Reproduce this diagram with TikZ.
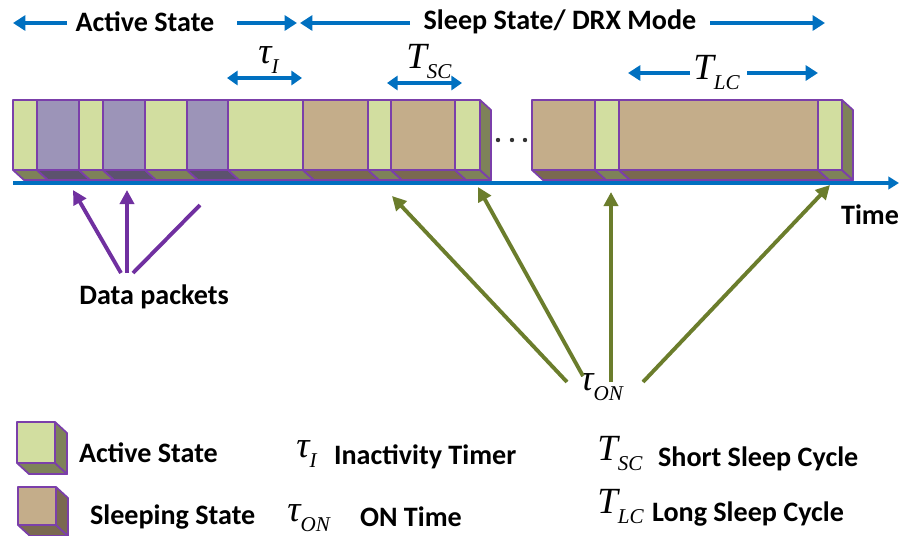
\documentclass[tikz,border=0pt]{standalone}
\usepackage{fontspec}
\setmainfont{Carlito}
\newfontfamily\symfont{Liberation Serif}
\usetikzlibrary{arrows.meta}

\definecolor{act}{HTML}{D2DEA0}
\definecolor{actbot}{HTML}{7E8259}
\definecolor{pkt}{HTML}{9C94B8}
\definecolor{pktbot}{HTML}{5C526E}
\definecolor{slp}{HTML}{C4AD8A}
\definecolor{slpbot}{HTML}{7A6950}
\definecolor{edge}{HTML}{7B3FAA}
\definecolor{dblue}{HTML}{0070C0}
\definecolor{pktline}{HTML}{7030A0}
\definecolor{online}{HTML}{6B7D2C}

% timer symbol with its subscript
\newcommand{\tsym}[2]{{\symfont\mdseries\itshape\fontsize{21}{24}\selectfont #1\raisebox{-6pt}{\fontsize{12}{14}\selectfont #2}}}

\begin{document}
\begin{tikzpicture}[x=0.02cm,y=-0.02cm,
    font=\fontsize{16}{19}\selectfont\bfseries,
    every node/.style={inner sep=1pt},
    sym/.style={inner sep=0pt,anchor=base west},
    head arrow/.style={draw=dblue,line width=2pt,-{Triangle[length=7pt,width=8.5pt]}},
    span arrow/.style={draw=dblue,line width=2pt,{Triangle[length=6pt,width=8pt]}-{Triangle[length=6pt,width=8pt]}},
    pkt arrow/.style={draw=pktline,line width=2.2pt,-{Triangle[length=8pt,width=8pt]}},
    on arrow/.style={draw=online,line width=2.2pt,-{Triangle[length=8pt,width=8pt]}},
    face/.style={draw=edge,line width=1pt,line join=round}
  ]
  \useasboundingbox (0,0) rectangle (900,535);

  % state headings
  \node (actHead) at (145,22) {Active State};
  \node (slpHead) at (560,22) {Sleep State/ DRX Mode};
  \coordinate (h1) at (13,23);  \coordinate (h2) at (67,23);
  \coordinate (h3) at (237,23); \coordinate (h4) at (297,23);
  \coordinate (h5) at (410,23); \coordinate (h6) at (300,23);
  \coordinate (h7) at (710,23); \coordinate (h8) at (825,23);
  \draw[head arrow] (h2) -- (h1);
  \draw[head arrow] (h3) -- (h4);
  \draw[head arrow] (h5) -- (h6);
  \draw[head arrow] (h7) -- (h8);

  % timer spans
  \node[sym] (tauI) at (258,63) {\tsym{τ}{I}};
  \coordinate (i1) at (227,78); \coordinate (i2) at (302,78);
  \draw[span arrow] (i1) -- (i2);
  \node[sym] (tSC) at (406,68) {\tsym{T}{SC}};
  \coordinate (s1) at (387,83); \coordinate (s2) at (462,83);
  \draw[span arrow] (s1) -- (s2);
  \node[sym] (tLC) at (693,79) {\tsym{T}{LC}};
  \coordinate (l1) at (628,73); \coordinate (l2) at (818,73);
  \draw[head arrow] (690,73) -- (l1);
  \draw[head arrow] (747,73) -- (l2);

  % the slots
  \foreach \xa/\xb/\kind in {13/37/act, 37/79/pkt, 79/103/act, 103/145/pkt,
      145/187/act, 187/228/pkt, 228/303/act, 303/368/slp, 368/391/act,
      391/455/slp, 455/480/act, 532/595/slp, 595/619/act, 619/818/slp, 818/842/act}{
    \filldraw[face,fill=\kind] (\xa,100) rectangle (\xb,170);
    \filldraw[face,fill=\kind bot] (\xa,170) -- (\xb,170) -- (\xb+11,180) -- (\xa+11,180) -- cycle;
  }
  \filldraw[face,fill=actbot] (480,100) -- (491,110) -- (491,180) -- (480,170) -- cycle;
  \filldraw[face,fill=actbot] (842,100) -- (853,110) -- (853,180) -- (842,170) -- cycle;
  \foreach \xd in {498,512,525}
    \fill[black!80] (\xd,140) circle (2.2);

  % time axis
  \coordinate (t0) at (13,183); \coordinate (t1) at (899,183);
  \draw[draw=dblue,line width=2.3pt,-{Triangle[length=6pt,width=7pt]}] (t0) -- (t1);
  \node (time) at (870,215) {Time};

  % data packets
  \node (data) at (154,297) {Data packets};
  \coordinate (d1) at (121,273); \coordinate (p1) at (73,190);
  \coordinate (d2) at (127,273); \coordinate (p2) at (127,190);
  \coordinate (d3) at (133,273); \coordinate (p3) at (200,205);
  \draw[pkt arrow] (d1) -- (p1);
  \draw[pkt arrow] (d2) -- (p2);
  \draw[draw=pktline,line width=2.2pt] (d3) -- (p3);

  % on times
  \node[sym] (tauON) at (580,390) {\tsym{τ}{ON}};
  \coordinate (o1) at (567,382); \coordinate (q1) at (392,196);
  \coordinate (o2) at (583,376); \coordinate (q2) at (478,187);
  \coordinate (o3) at (611,382); \coordinate (q3) at (611,192);
  \coordinate (o4) at (643,382); \coordinate (q4) at (830,185);
  \foreach \i in {1,...,4}
    \draw[on arrow] (o\i) -- (q\i);

  % legend
  \filldraw[face,fill=act] (17,422) rectangle (55,463);
  \filldraw[face,fill=actbot] (17,463) -- (55,463) -- (67,474) -- (29,474) -- cycle;
  \filldraw[face,fill=actbot] (55,422) -- (67,433) -- (67,474) -- (55,463) -- cycle;
  \filldraw[face,fill=slp] (18,487) rectangle (56,525);
  \filldraw[face,fill=slpbot] (18,525) -- (56,525) -- (68,536) -- (30,536) -- cycle;
  \filldraw[face,fill=slpbot] (56,487) -- (68,498) -- (68,536) -- (56,525) -- cycle;
  \node[anchor=west] (legAct) at (77,453) {Active State};
  \node[anchor=west] (legSlp) at (88,517) {Sleeping State};
  \node[sym] (legTauI) at (296,457) {\tsym{τ}{I}};
  \node[anchor=west] (legInact) at (332,457) {Inactivity Timer};
  \node[sym] (legTauON) at (287,521) {\tsym{τ}{ON}};
  \node[anchor=west] (legOn) at (358,517) {ON Time};
  \node[sym] (legTSC) at (597,460) {\tsym{T}{SC}};
  \node[anchor=west] (legShort) at (656,459) {Short Sleep Cycle};
  \node[sym] (legTLC) at (597,513) {\tsym{T}{LC}};
  \node[anchor=west] (legLong) at (650,514) {Long Sleep Cycle};
\end{tikzpicture}
\end{document}
